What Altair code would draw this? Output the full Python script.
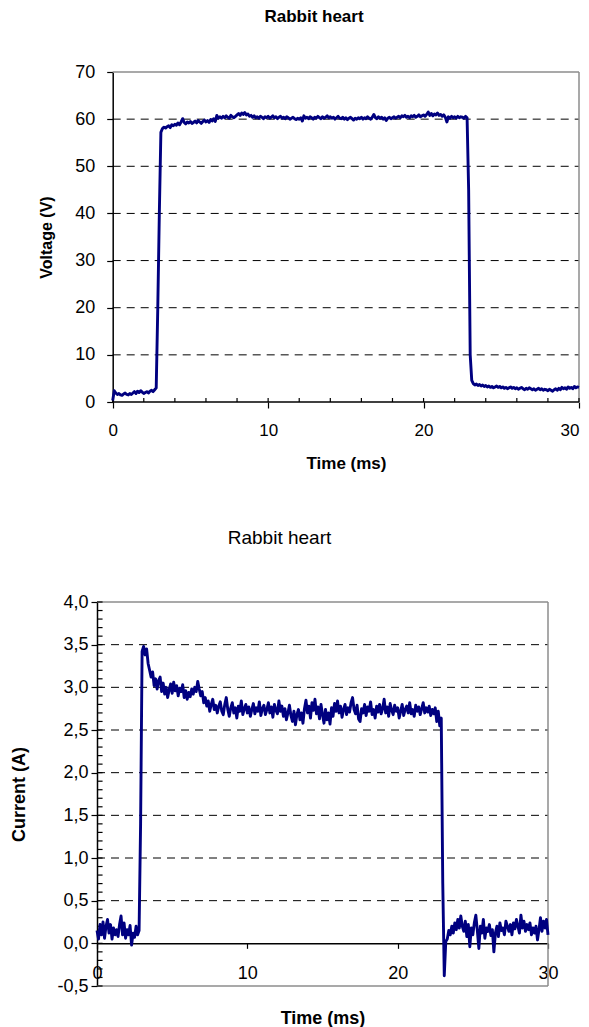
import altair as alt
import pandas as pd

FONT = "Liberation Sans"
NAVY = "#000080"
GRAY = "#8c8c8c"

# ---------------- data (0.1 ms sampling) ----------------
SAMPLE_STEP_MS = 0.1

voltage_V = [
    0.3, 2.4, 1.9, 1.6, 1.8, 1.5, 1.4, 1.7, 1.9, 1.6,
    1.5, 1.8, 1.6, 1.9, 2.2, 1.8, 2.3, 2.0, 2.4, 2.1,
    1.8, 2.0, 2.2, 1.9, 2.3, 2.5, 2.2, 2.6, 3.0, 20.0,
    40.0, 57.2, 58.0, 58.3, 58.1, 58.4, 58.6, 58.2, 58.8, 58.6,
    58.9, 58.7, 59.2, 58.8, 59.4, 60.1, 59.3, 59.0, 59.4, 59.2,
    59.5, 59.1, 59.3, 59.6, 59.2, 59.7, 59.4, 59.1, 59.5, 59.8,
    59.4, 59.7, 59.3, 59.9, 59.6, 60.1, 59.5, 60.8, 60.2, 60.5,
    60.2, 60.6, 60.3, 60.7, 60.4, 60.2, 60.8, 60.5, 60.3, 60.6,
    60.9, 61.2, 60.8, 61.3, 61.0, 61.4, 60.9, 61.1, 60.6, 60.8,
    60.4, 60.7, 60.3, 60.5, 60.2, 60.6, 60.4, 60.1, 60.5, 60.3,
    60.6, 60.2, 60.4, 60.7, 60.3, 60.5, 60.1, 60.4, 60.6, 60.2,
    60.4, 60.1, 60.5, 60.3, 60.0, 60.2, 60.4, 60.1, 59.9, 60.2,
    60.0, 60.3, 59.6, 60.7, 60.2, 60.4, 60.1, 60.5, 60.3, 60.0,
    60.4, 60.2, 60.6, 60.3, 60.1, 60.5, 60.2, 60.4, 60.7, 60.3,
    60.5, 60.2, 60.4, 60.0, 60.3, 60.6, 60.2, 60.1, 60.4, 60.0,
    60.3, 59.9, 60.2, 60.4, 60.1, 59.8, 60.2, 60.0, 60.3, 60.1,
    60.4, 60.0, 60.3, 60.1, 60.5, 60.2, 60.0, 60.4, 61.0, 60.3,
    60.1, 60.5, 60.2, 60.4, 60.0, 60.3, 59.7, 60.2, 60.4, 60.1,
    60.3, 60.5, 60.2, 60.4, 60.6, 60.3, 60.7, 60.5, 60.8, 60.4,
    60.6, 60.3, 60.7, 60.5, 60.8, 60.4, 60.6, 60.9, 60.5, 60.7,
    60.9, 60.6, 61.0, 61.5, 60.8, 61.2, 60.7, 61.1, 60.9, 61.3,
    60.8, 61.0, 60.6, 60.9, 60.4, 59.4, 60.5, 60.2, 60.6, 60.3,
    60.5, 60.2, 60.6, 60.3, 60.5, 60.4, 60.2, 60.6, 60.3, 45.0,
    10.0, 4.6, 3.9, 3.6, 3.8, 3.5, 3.7, 3.4, 3.6, 3.3,
    3.5, 3.2, 3.4, 3.1, 3.3, 3.0, 3.2, 3.4, 3.1, 3.3,
    3.0, 3.2, 2.9, 3.1, 2.8, 3.0, 3.2, 2.9, 3.1, 2.8,
    3.0, 2.7, 2.9, 3.1, 2.8, 2.6, 2.9, 2.7, 3.0, 2.8,
    2.6, 2.8, 2.5, 2.7, 2.9, 2.6, 2.8, 2.5, 2.7, 2.6,
    2.4, 2.7, 2.5, 2.3, 2.6, 2.8, 2.5, 2.9, 2.6, 3.1,
    2.8, 3.0, 2.7, 3.2, 2.9, 3.1, 2.8, 3.3, 3.0, 3.2,
    3.1,
]

current_A = [
    0.15, 0.05, 0.22, 0.10, 0.25, 0.06, 0.20, 0.28, 0.12, 0.22,
    0.05, 0.18, 0.10, 0.16, 0.08, 0.22, 0.32, 0.10, 0.24, 0.06,
    0.16, 0.10, 0.21, -0.02, 0.12, 0.07, 0.20, 0.10, 0.15, 1.40,
    3.42, 3.48, 3.38, 3.45, 3.28, 3.20, 3.12, 3.18, 3.02, 3.10,
    2.98, 3.08, 3.12, 2.95, 3.05, 2.92, 3.00, 2.88, 2.97, 3.04,
    2.93, 3.06, 2.96, 3.02, 2.90, 2.99, 2.95, 3.03, 2.88, 2.96,
    2.86, 2.94, 2.89, 2.98, 2.92, 3.00, 2.95, 3.07, 2.98, 2.90,
    2.95, 2.82, 2.88, 2.78, 2.84, 2.72, 2.80, 2.86, 2.74, 2.79,
    2.70, 2.78, 2.83, 2.72, 2.68, 2.80, 2.88, 2.74, 2.66, 2.76,
    2.82, 2.70, 2.76, 2.64, 2.78, 2.72, 2.84, 2.68, 2.75, 2.80,
    2.70, 2.77, 2.66, 2.74, 2.81, 2.69, 2.76, 2.72, 2.83, 2.67,
    2.75, 2.79, 2.68, 2.74, 2.82, 2.70, 2.77, 2.65, 2.80, 2.73,
    2.69, 2.84, 2.72, 2.78, 2.66, 2.75, 2.62, 2.70, 2.79, 2.67,
    2.60, 2.72, 2.56, 2.68, 2.74, 2.62, 2.70, 2.58, 2.75, 2.85,
    2.70, 2.78, 2.64, 2.82, 2.73, 2.86, 2.69, 2.77, 2.63, 2.80,
    2.68, 2.58, 2.74, 2.62, 2.70, 2.57, 2.76, 2.66, 2.81, 2.72,
    2.84, 2.70, 2.78, 2.65, 2.74, 2.80, 2.68, 2.76, 2.71, 2.82,
    2.88, 2.74, 2.69, 2.79, 2.63, 2.60, 2.75, 2.70, 2.80, 2.67,
    2.77, 2.72, 2.83, 2.68, 2.74, 2.64, 2.78, 2.71, 2.80, 2.69,
    2.75, 2.86, 2.70, 2.77, 2.66, 2.81, 2.73, 2.68, 2.79, 2.72,
    2.76, 2.64, 2.72, 2.80, 2.67, 2.74, 2.78, 2.70, 2.82, 2.69,
    2.74, 2.66, 2.79, 2.72, 2.77, 2.68, 2.75, 2.82, 2.70, 2.76,
    2.71, 2.78, 2.67, 2.74, 2.69, 2.76, 2.60, 2.72, 2.55, 2.64,
    0.70, -0.38, 0.02, 0.05, 0.15, 0.10, 0.20, 0.12, 0.24, 0.16,
    0.28, 0.18, 0.32, 0.20, 0.14, 0.26, 0.08, 0.22, -0.04, 0.18,
    0.10, 0.24, 0.33, 0.15, -0.06, 0.20, 0.12, 0.28, 0.06, 0.18,
    0.14, 0.22, 0.09, 0.16, -0.10, 0.12, 0.20, 0.08, 0.24, 0.15,
    0.18, 0.10, 0.26, 0.20, 0.14, 0.22, 0.10, 0.24, 0.17, 0.28,
    0.20, 0.12, 0.33, 0.18, 0.26, 0.14, 0.22, 0.16, 0.24, 0.10,
    0.18, 0.12, 0.20, 0.04, 0.16, 0.30, 0.14, 0.26, 0.18, 0.28,
    0.10,
]

time_ms = [round(i * SAMPLE_STEP_MS, 1) for i in range(len(voltage_V))]

time_ticks = [0, 10, 20, 30]
time_minor_ticks = [0, 2, 4, 6, 8, 10, 12, 14, 16, 18, 20, 22, 24, 26, 28, 30]
voltage_ticks = [0, 10, 20, 30, 40, 50, 60, 70]
voltage_grid = [10, 20, 30, 40, 50, 60]
current_ticks = [-0.5, 0.0, 0.5, 1.0, 1.5, 2.0, 2.5, 3.0, 3.5, 4.0]
current_grid = [0.5, 1.0, 1.5, 2.0, 2.5, 3.0, 3.5]
current_minor_ticks = [
    -0.5, -0.4, -0.3, -0.2, -0.1, 0.0, 0.1, 0.2, 0.3, 0.4, 0.5, 0.6, 0.7, 0.8, 0.9,
    1.0, 1.1, 1.2, 1.3, 1.4, 1.5, 1.6, 1.7, 1.8, 1.9, 2.0, 2.1, 2.2, 2.3, 2.4,
    2.5, 2.6, 2.7, 2.8, 2.9, 3.0, 3.1, 3.2, 3.3, 3.4, 3.5, 3.6, 3.7, 3.8, 3.9, 4.0,
]

T_MIN, T_MAX = 0, 30
V_MIN, V_MAX = 0, 70
I_MIN, I_MAX = -0.5, 4.0

# ---------------- layout constants ----------------
TOP_W, TOP_H = 482, 330
BOT_W, BOT_H = 451, 384
TOP_X_PAD_MS = 1.01          # widen the top x domain so its plot starts further right
TOP_Y_AXIS_SHIFT = -15.7     # px, moves the top y axis onto t = 0
BOT_X_AXIS_SHIFT = -BOT_H * 0.5 / (I_MAX - I_MIN)  # px, x axis sits on I = 0
TOP_TICK_UP = 0.85           # V, inward minor tick length
BOT_TICK_IN = 0.37           # ms, inward minor tick length

# ---------------- top chart: voltage ----------------
x_top = alt.Scale(domain=[T_MIN - TOP_X_PAD_MS, T_MAX], nice=False, zero=False)
y_top = alt.Scale(domain=[V_MIN, V_MAX], nice=False, zero=False)

ax_top_x = alt.Axis(
    values=time_ticks, domain=False, grid=False, tickSize=6, tickWidth=1.2,
    labelPadding=14, labelFontSize=17, labelFlush=5, labelOverlap=False,
    title="Time (ms)", titleFontSize=17, titleFontWeight="bold",
    titlePadding=17, titleX=249)
ax_top_y = alt.Axis(
    values=voltage_ticks, offset=TOP_Y_AXIS_SHIFT, grid=False, tickSize=6,
    tickWidth=1.2, domainWidth=1.5, labelPadding=12, labelFontSize=18,
    format="d", labelFlush=False, labelOverlap=False,
    title="Voltage (V)", titleFontSize=16, titleFontWeight="bold", titlePadding=20)


def tx(field):
    return alt.X(field, type="quantitative", scale=x_top, axis=ax_top_x)


def ty(field):
    return alt.Y(field, type="quantitative", scale=y_top, axis=ax_top_y)


top_df = pd.DataFrame({"t": time_ms, "v": voltage_V})

top_line = alt.Chart(top_df).mark_line(
    color=NAVY, strokeWidth=2.9, strokeJoin="round"
).encode(x=tx("t"), y=ty("v"))

top_grid = alt.Chart(pd.DataFrame({
    "t": [T_MIN] * len(voltage_grid), "t2": [T_MAX] * len(voltage_grid), "v": voltage_grid,
})).mark_rule(color="black", strokeWidth=1, strokeDash=[8, 6]).encode(
    x=tx("t"), x2="t2:Q", y=ty("v"),
)

top_frame = alt.Chart(pd.DataFrame({
    "t": [T_MIN, T_MAX], "t2": [T_MAX, T_MAX], "v": [V_MAX, V_MIN], "v2": [V_MAX, V_MAX],
})).mark_rule(color=GRAY, strokeWidth=1.5).encode(
    x=tx("t"), x2="t2:Q", y=ty("v"), y2="v2:Q",
)

top_xline = alt.Chart(pd.DataFrame({
    "t": [T_MIN], "t2": [T_MAX], "v": [V_MIN],
})).mark_rule(color="black", strokeWidth=1.5).encode(
    x=tx("t"), x2="t2:Q", y=ty("v"),
)

top_minor = alt.Chart(pd.DataFrame({
    "t": time_minor_ticks, "v": [V_MIN] * len(time_minor_ticks),
    "v2": [V_MIN + TOP_TICK_UP] * len(time_minor_ticks),
})).mark_rule(color="black", strokeWidth=1.2).encode(
    x=tx("t"), y=ty("v"), y2="v2:Q",
)

top_chart = alt.layer(top_grid, top_frame, top_minor, top_xline, top_line).properties(
    width=TOP_W, height=TOP_H,
    title=alt.TitleParams("Rabbit heart", font=FONT, fontSize=17, fontWeight="bold",
                          color="black", anchor="middle", frame="group", dx=-24, offset=37),
)

# ---------------- bottom chart: current ----------------
x_bot = alt.Scale(domain=[T_MIN, T_MAX], nice=False, zero=False)
y_bot = alt.Scale(domain=[I_MIN, I_MAX], nice=False, zero=False)

comma_expr = "replace(replace(format(datum.value, '.1f'), '.', ','), '\u2212', '-')"

ax_bot_x = alt.Axis(
    values=time_ticks, offset=BOT_X_AXIS_SHIFT, grid=False, tickSize=5,
    tickWidth=1.2, domainWidth=1.5, labelPadding=16, labelFontSize=18,
    labelFlush=False, labelOverlap=False,
    title="Time (ms)", titleFontSize=18, titleFontWeight="bold", titlePadding=27)
ax_bot_y = alt.Axis(
    values=current_ticks, grid=False, tickSize=6, tickWidth=1.2, domainWidth=1.5,
    labelPadding=3, labelFontSize=18, labelExpr=comma_expr,
    labelFlush=False, labelOverlap=False,
    title="Current (A)", titleFontSize=18, titleFontWeight="bold", titlePadding=28)


def bx(field):
    return alt.X(field, type="quantitative", scale=x_bot, axis=ax_bot_x)


def by(field):
    return alt.Y(field, type="quantitative", scale=y_bot, axis=ax_bot_y)


bot_df = pd.DataFrame({"t": time_ms, "i": current_A})

bot_line = alt.Chart(bot_df).mark_line(
    color=NAVY, strokeWidth=2.9, strokeJoin="round"
).encode(x=bx("t"), y=by("i"))

bot_grid = alt.Chart(pd.DataFrame({
    "t": [T_MIN] * len(current_grid), "t2": [T_MAX] * len(current_grid), "i": current_grid,
})).mark_rule(color="black", strokeWidth=1, strokeDash=[8, 6]).encode(
    x=bx("t"), x2="t2:Q", y=by("i"),
)

bot_frame = alt.Chart(pd.DataFrame({
    "t": [T_MIN, T_MAX, T_MIN], "t2": [T_MAX, T_MAX, T_MAX],
    "i": [I_MAX, I_MIN, I_MIN], "i2": [I_MAX, I_MAX, I_MIN],
})).mark_rule(color=GRAY, strokeWidth=1.5).encode(
    x=bx("t"), x2="t2:Q", y=by("i"), y2="i2:Q",
)

bot_minor = alt.Chart(pd.DataFrame({
    "i": current_minor_ticks, "t": [T_MIN] * len(current_minor_ticks),
    "t2": [T_MIN + BOT_TICK_IN] * len(current_minor_ticks),
})).mark_rule(color="black", strokeWidth=1.2).encode(
    x=bx("t"), x2="t2:Q", y=by("i"),
)

bot_chart = alt.layer(bot_grid, bot_frame, bot_minor, bot_line).properties(
    width=BOT_W, height=BOT_H,
    title=alt.TitleParams("Rabbit heart", font=FONT, fontSize=19, fontWeight="normal",
                          color="black", anchor="middle", frame="group", dx=-43, offset=45),
)

chart = alt.vconcat(top_chart, bot_chart, spacing=58).properties(
    padding={"left": 2, "top": 0, "right": 0, "bottom": 0},
).configure_view(stroke=None).configure_axis(
    labelFont=FONT, titleFont=FONT, labelColor="black", titleColor="black",
    domainColor="black", tickColor="black",
)

chart.save("out.html", embed_options={"renderer": "svg", "actions": False})
